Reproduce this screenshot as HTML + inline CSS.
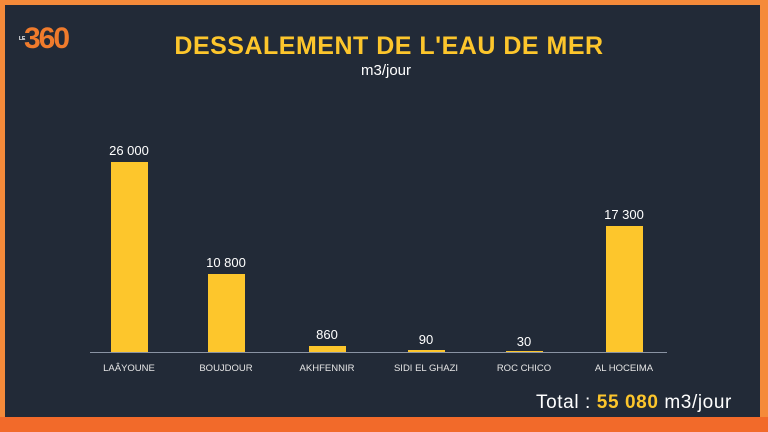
<!DOCTYPE html>
<html><head><style>
body{margin:0;width:768px;height:432px;background:#f58a3a;overflow:hidden;font-family:"Liberation Sans",sans-serif;}
.panel{position:absolute;left:5px;top:5px;width:755px;height:412px;background:#222a37;}
.t{position:absolute;white-space:nowrap;}
.bar{position:absolute;background:#fdc62c;width:37px;}
.v{position:absolute;color:#fff;font-size:13px;text-align:center;width:80px;}
.l{position:absolute;color:#e6e6e6;font-size:9.5px;text-align:center;width:100px;top:363px;}
</style></head><body>
<div style="position:absolute;left:0;bottom:0;width:768px;height:15px;background:#f26a2a"></div>
<div class="panel"></div>
<div class="t" style="left:19px;top:36px;color:#fff;font-size:5px;font-weight:bold">LE</div>
<div class="t" style="left:24px;top:22px;color:#f07b2c;font-size:30px;font-weight:bold;letter-spacing:-2px">360</div>
<div class="t" style="left:5px;width:768px;text-align:center;top:32px;color:#fdc62c;font-size:25px;font-weight:900;letter-spacing:0.5px">DESSALEMENT DE L'EAU DE MER</div>
<div class="t" style="left:2px;width:768px;text-align:center;top:62px;color:#fff;font-size:15px">m3/jour</div>
<div style="position:absolute;left:90px;top:352px;width:577px;height:1px;background:#8a93a3"></div>
<div class="bar" style="left:111px;top:162px;height:190px"></div>
<div class="bar" style="left:208px;top:274px;height:78px"></div>
<div class="bar" style="left:309px;top:346px;height:6px"></div>
<div class="bar" style="left:408px;top:350px;height:2px"></div>
<div class="bar" style="left:506px;top:351px;height:1px"></div>
<div class="bar" style="left:606px;top:226px;height:126px"></div>
<div class="v" style="left:89px;top:143px">26 000</div>
<div class="v" style="left:186px;top:255px">10 800</div>
<div class="v" style="left:287px;top:327px">860</div>
<div class="v" style="left:386px;top:332px">90</div>
<div class="v" style="left:484px;top:334px">30</div>
<div class="v" style="left:584px;top:207px">17 300</div>
<div class="l" style="left:79px">LAÂYOUNE</div>
<div class="l" style="left:176px">BOUJDOUR</div>
<div class="l" style="left:277px">AKHFENNIR</div>
<div class="l" style="left:376px">SIDI EL GHAZI</div>
<div class="l" style="left:474px">ROC CHICO</div>
<div class="l" style="left:574px">AL HOCEIMA</div>
<div class="t" style="left:536px;top:392px;color:#fff;font-size:19px;letter-spacing:0.6px">Total : <b style="color:#fdc62c">55 080</b> m3/jour</div>
</body></html>
